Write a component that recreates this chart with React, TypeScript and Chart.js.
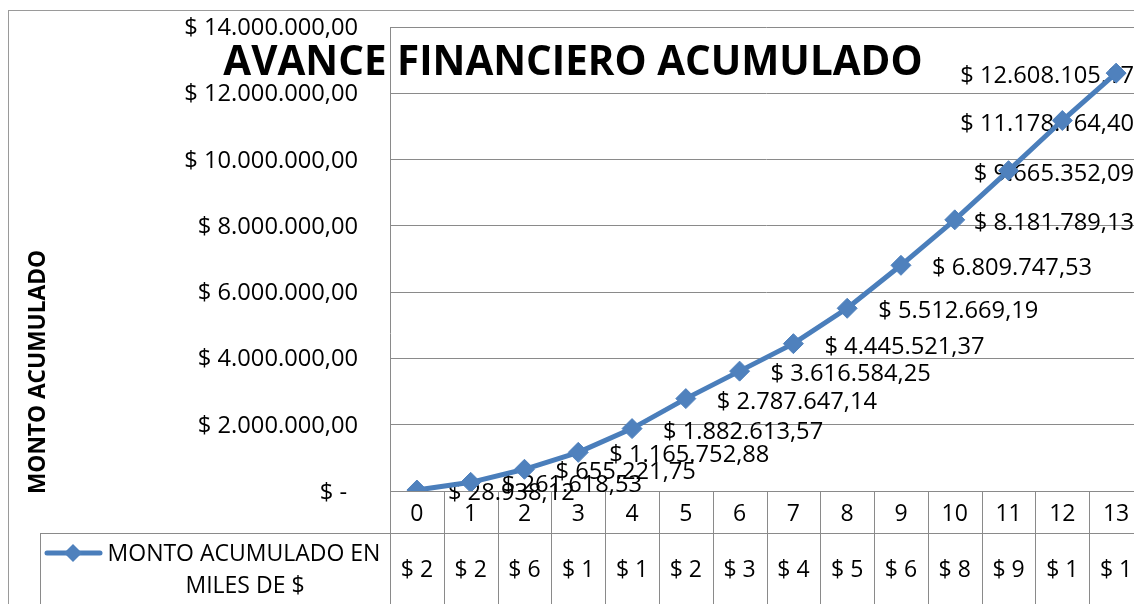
import React, { useEffect, useRef } from "react";
import { Chart, registerables } from "chart.js";

Chart.register(...registerables);

const categories = ["0", "1", "2", "3", "4", "5", "6", "7", "8", "9", "10", "11", "12", "13"];
const montoAcumulado = [
  28938.12, 261618.53, 655221.75, 1165752.88, 1882613.57, 2787647.14, 3616584.25,
  4445521.37, 5512669.19, 6809747.53, 8181789.13, 9665352.09, 11178164.4, 12608105.17,
];
const yTicks = [0, 2000000, 4000000, 6000000, 8000000, 10000000, 12000000, 14000000];
const chartTitle = "AVANCE FINANCIERO ACUMULADO";
const yTitle = "MONTO ACUMULADO";
const legendLines = ["MONTO ACUMULADO EN", "MILES DE $"];

const FONT = "'Open Sans', 'Noto Sans', sans-serif";
const GRID = "#8a8a8a";
const LINE = "#4a7ebb";
const MARK = "#4f81bd";

function fmt(v: number): string {
  const [i, d] = v.toFixed(2).split(".");
  return "$ " + i.replace(/\B(?=(\d{3})+(?!\d))/g, ".") + "," + d;
}

const W = 1160;
const H = 640;
const VIEW_W = 1134;

const decorPlugin = {
  id: "decor",
  beforeDatasetsDraw(chart: any) {
    const ctx = chart.ctx as CanvasRenderingContext2D;
    const x = chart.scales.x;
    const y = chart.scales.y;
    const ca = chart.chartArea;
    const n = categories.length;
    const colW = (ca.right - ca.left) / n;
    const rowTop = y.getPixelForValue(0);
    const row2 = rowTop + 42;
    ctx.save();
    // outer chart border
    ctx.strokeStyle = "#9a9a9a";
    ctx.lineWidth = 1;
    ctx.strokeRect(8.5, 10.5, W, H);

    ctx.strokeStyle = GRID;
    ctx.lineWidth = 1;
    // y axis line
    ctx.beginPath();
    ctx.moveTo(Math.round(ca.left) + 0.5, ca.top);
    ctx.lineTo(Math.round(ca.left) + 0.5, H);
    ctx.stroke();
    // x axis / table top line
    ctx.beginPath();
    ctx.moveTo(ca.left, Math.round(rowTop) + 0.5);
    ctx.lineTo(W, Math.round(rowTop) + 0.5);
    ctx.stroke();
    // second row line
    ctx.beginPath();
    ctx.moveTo(40, Math.round(row2) + 0.5);
    ctx.lineTo(W, Math.round(row2) + 0.5);
    ctx.stroke();
    // legend cell left
    ctx.beginPath();
    ctx.moveTo(40.5, Math.round(row2));
    ctx.lineTo(40.5, H);
    ctx.stroke();
    // column boundaries
    for (let i = 1; i <= n; i++) {
      const bx = Math.round(x.getPixelForValue(i - 1) + colW / 2) + 0.5;
      ctx.beginPath();
      ctx.moveTo(bx, rowTop);
      ctx.lineTo(bx, H);
      ctx.stroke();
    }

    // y tick labels
    ctx.fillStyle = "#000";
    ctx.font = `23.7px ${FONT}`;
    ctx.textAlign = "right";
    ctx.textBaseline = "alphabetic";
    yTicks.forEach((t) => {
      const py = y.getPixelForValue(t);
      if (t === 0) ctx.fillText("$ -", ca.left - 43, py + 9);
      else ctx.fillText(fmt(t), ca.left - 32, py + 8);
    });

    // category labels and value row
    ctx.textAlign = "center";
    categories.forEach((c, i) => {
      const px = x.getPixelForValue(i);
      ctx.font = `23px ${FONT}`;
      ctx.fillText(c, px, rowTop + 30);
      ctx.font = `23px ${FONT}`;
      ctx.fillText("$ " + String(Math.floor(montoAcumulado[i])).charAt(0), px, row2 + 44);
    });

    // data labels
    ctx.font = `23.7px ${FONT}`;
    ctx.textAlign = "left";
    montoAcumulado.forEach((v, i) => {
      const px = x.getPixelForValue(i);
      const py = y.getPixelForValue(v);
      const txt = fmt(v);
      const w = ctx.measureText(txt).width;
      const lx = Math.min(px + 31, VIEW_W - w);
      ctx.fillText(txt, lx, py + 10);
    });

    // legend key
    const ly = row2 + 20;
    ctx.strokeStyle = LINE;
    ctx.lineWidth = 5;
    ctx.lineCap = "round";
    ctx.beginPath();
    ctx.moveTo(47, ly);
    ctx.lineTo(100, ly);
    ctx.stroke();
    ctx.fillStyle = MARK;
    ctx.beginPath();
    ctx.moveTo(73 - 9, ly);
    ctx.lineTo(73, ly - 9);
    ctx.lineTo(73 + 9, ly);
    ctx.lineTo(73, ly + 9);
    ctx.closePath();
    ctx.fill();
    ctx.fillStyle = "#000";
    ctx.font = `23px ${FONT}`;
    ctx.textAlign = "center";
    ctx.fillText(legendLines[0], 244, ly + 8);
    ctx.fillText(legendLines[1], 245, ly + 40);

    // titles
    ctx.font = `bold 40.4px ${FONT}`;
    ctx.fillText(chartTitle, 573, 75);
    ctx.save();
    ctx.translate(45, 372);
    ctx.rotate(-Math.PI / 2);
    ctx.font = `bold 22.7px ${FONT}`;
    ctx.fillText(yTitle, 0, 0);
    ctx.restore();
    ctx.restore();
  },
};

export default function App() {
  const ref = useRef<HTMLCanvasElement | null>(null);
  useEffect(() => {
    if (!ref.current) return;
    const chart = new Chart(ref.current, {
      type: "line",
      data: {
        labels: categories,
        datasets: [
          {
            label: legendLines.join(" "),
            data: montoAcumulado,
            borderColor: LINE,
            borderWidth: 5,
            backgroundColor: MARK,
            pointStyle: "rectRot",
            pointRadius: 10,
            pointBackgroundColor: MARK,
            pointBorderColor: MARK,
            pointBorderWidth: 1,
            tension: 0,
            fill: false,
          },
        ],
      },
      options: {
        responsive: false,
        animation: false,
        layout: { padding: { left: 390, top: 27, right: W - 1143, bottom: H - 491 } },
        plugins: {
          legend: { display: false },
          title: { display: false },
          tooltip: { enabled: false },
        },
        scales: {
          x: {
            type: "category",
            offset: true,
            grid: { display: false, drawTicks: false },
            border: { display: false },
            ticks: { display: false },
            afterFit: (s: any) => {
              s.height = 0;
            },
          },
          y: {
            min: 0,
            max: 14000000,
            ticks: { display: false, stepSize: 2000000 },
            grid: { color: GRID, drawTicks: false, lineWidth: 1 },
            border: { display: false },
            afterFit: (s: any) => {
              s.width = 0;
            },
          },
        },
      } as any,
      plugins: [decorPlugin],
    });
    return () => chart.destroy();
  }, []);
  return (
    <div
      style={{
        position: "fixed",
        left: 0,
        top: 0,
        width: VIEW_W,
        height: 604,
        overflow: "hidden",
        background: "#fff",
      }}
    >
      <canvas ref={ref} width={W} height={H} style={{ display: "block", width: W, height: H }} />
    </div>
  );
}
